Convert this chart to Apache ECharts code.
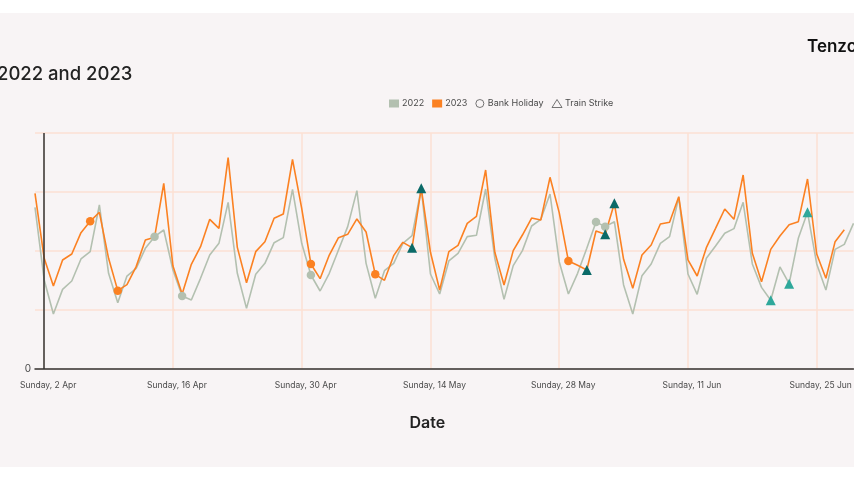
<!DOCTYPE html>
<html>
<head>
    <meta charset="utf-8">
    <title>2022 and 2023</title>
    <script src="https://cdnjs.cloudflare.com/ajax/libs/echarts/6.0.0/echarts.min.js"></script>
    <style>
        html, body { margin: 0; padding: 0; background: #ffffff; overflow: hidden; }
    </style>
</head>
<body>
<div id="mychart" style="width:854px; height:480px;"></div>
<script>
    // one value per day, starting Saturday 1 Apr
    var sales2022 = [
        2740, 1509, 932, 1350, 1492, 1865, 1989, 2780, 1622, 1124,
        1576, 1706, 2045, 2243, 2356, 1678, 1237, 1170, 1537, 1932,
        2130, 2825, 1622, 1028, 1605, 1791, 2141, 2226, 3045, 2130,
        1593, 1322, 1622, 2017, 2413, 3023, 1791, 1198, 1667, 1791,
        2130, 2260, 3062, 1610, 1271, 1831, 1961, 2243, 2266, 3051,
        1876, 1181, 1752, 2006, 2424, 2537, 2966, 1819, 1271, 1622,
        2045, 2492, 2413, 2497, 1424, 932, 1582, 1780, 2130, 2243,
        2910, 1610, 1266, 1876, 2085, 2300, 2379, 2825, 1780, 1384,
        1164, 1729, 1446, 2215, 2656, 1780, 1339, 2028, 2113, 2469
    ];
    var sales2023 = [
        2978, 1876, 1407, 1848, 1949, 2311, 2503, 2656, 1876, 1328,
        1429, 1735, 2187, 2232, 3147, 1746, 1271, 1774, 2074, 2537,
        2384, 3582, 2062, 1463, 1989, 2158, 2554, 2627, 3554, 2723,
        1780, 1531, 1932, 2226, 2283, 2543, 2322, 1605, 1503, 1921,
        2147, 2057, 3062, 1978, 1339, 1989, 2096, 2469, 2588, 3373,
        1978, 1424, 2006, 2271, 2559, 2526, 3249, 2650, 1831, 1757,
        1678, 2339, 2283, 2808, 1859, 1367, 1932, 2102, 2458, 2486,
        2921, 1848, 1576, 2057, 2384, 2712, 2537, 3288, 1961, 1480,
        2028, 2254, 2446, 2497, 3220, 1949, 1537, 2158, 2362, null
    ];
    // positions in the daily arrays above
    var holidays2022 = [13, 16, 30, 61, 62];
    var holidays2023 = [6, 9, 30, 37, 58];
    var strikes2022 = [80, 82, 84];
    var strikes2023 = [41, 42, 60, 62, 63];

    var weekdays = ['Sunday', 'Monday', 'Tuesday', 'Wednesday', 'Thursday', 'Friday', 'Saturday'];
    var months = ['Apr', 'May', 'Jun'];
    var categories = [];
    for (var i = 0; i < sales2022.length; i++) {
        var d = new Date(Date.UTC(2023, 3, 1 + i));
        categories.push(weekdays[d.getUTCDay()] + ', ' + d.getUTCDate() + ' ' + months[d.getUTCMonth() - 3]);
    }
    var firstSunday = categories[1];

    function marks(days, values, color) {
        return days.map(function (day) {
            return { value: [categories[day], values[day]], itemStyle: { color: color, opacity: 1 } };
        });
    }

    function isTick(index) {
        return index % 14 === 1;
    }

    var GRID_COLOR = '#fde0d3';
    var TEXT_COLOR = '#4a4a4a';
    var FONT = 'Inter';

    var myechart = echarts.init(document.getElementById('mychart'));
    myechart.setOption({
        animation: false,
        textStyle: { fontFamily: FONT },
        title: {
            text: '2022 and 2023',
            left: -8,
            top: 60,
            textStyle: { fontFamily: FONT, fontSize: 18.5, fontWeight: 500, color: '#222222' }
        },
        graphic: [
            { type: 'rect', z: -10, shape: { x: 0, y: 13, width: 854, height: 454 }, style: { fill: '#f8f4f5' } },
            {
                type: 'text', left: 807, top: 38,
                style: { text: 'Tenzo', fontFamily: FONT, fontSize: 17, fontWeight: 600, fill: '#111111' }
            }
        ],
        legend: {
            left: 384,
            top: 94,
            itemWidth: 10,
            itemHeight: 8,
            itemGap: 8,
            textStyle: { fontFamily: FONT, fontSize: 9, color: TEXT_COLOR, padding: [0, 0, 0, -2] },
            data: [
                { name: '2022', icon: 'rect' },
                { name: '2023', icon: 'rect' },
                { name: 'Bank Holiday', icon: 'circle', itemStyle: { color: 'transparent', borderColor: '#555555', borderWidth: 1 } },
                { name: 'Train Strike', icon: 'triangle', itemStyle: { color: 'transparent', borderColor: '#555555', borderWidth: 1 } }
            ]
        },
        grid: { left: 35, right: 0.5, top: 133, bottom: 111, outerBoundsMode: 'none' },
        xAxis: {
            type: 'category',
            boundaryGap: false,
            data: categories,
            name: 'Date',
            nameLocation: 'middle',
            nameGap: 46,
            nameTextStyle: { fontFamily: FONT, fontSize: 16, fontWeight: 600, color: '#222222', padding: [0, 34, 0, 0] },
            axisLine: { lineStyle: { color: '#333333', width: 1.5 } },
            axisTick: { show: false },
            axisLabel: {
                interval: function (index) { return isTick(index); },
                fontSize: 8.5,
                color: TEXT_COLOR,
                margin: 12,
                padding: [0, 0, 0, 8]
            },
            splitLine: {
                show: true,
                interval: function (index) { return isTick(index); },
                lineStyle: { color: GRID_COLOR, width: 1.5 }
            }
        },
        yAxis: {
            type: 'value',
            min: 0,
            max: 4000,
            interval: 1000,
            axisLine: { show: false },
            axisTick: { show: false },
            axisLabel: {
                fontSize: 10,
                color: TEXT_COLOR,
                margin: 4,
                formatter: function (v) { return v === 0 ? '0' : ''; }
            },
            splitLine: { lineStyle: { color: GRID_COLOR, width: 1.5 } }
        },
        series: [
            {
                name: '2022',
                type: 'line',
                data: sales2022,
                symbol: 'none',
                itemStyle: { color: '#b3c0b0' },
                lineStyle: { color: '#b3c0b0', width: 1.6 },
                markLine: {
                    silent: true,
                    symbol: 'none',
                    label: { show: false },
                    lineStyle: { color: '#333333', width: 1.5, type: 'solid' },
                    data: [{ xAxis: firstSunday }]
                }
            },
            {
                name: '2023',
                type: 'line',
                data: sales2023,
                symbol: 'none',
                itemStyle: { color: '#fb8122' },
                lineStyle: { color: '#fb8122', width: 1.6 }
            },
            {
                name: 'Bank Holiday',
                type: 'scatter',
                symbol: 'circle',
                symbolSize: 8.5,
                z: 5,
                data: marks(holidays2022, sales2022, '#b3c0b0').concat(marks(holidays2023, sales2023, '#fb8122'))
            },
            {
                name: 'Train Strike',
                type: 'scatter',
                symbol: 'triangle',
                symbolSize: 10,
                z: 5,
                data: marks(strikes2022, sales2022, '#2fa89b').concat(marks(strikes2023, sales2023, '#0b6a68'))
            }
        ]
    });
</script>
</body>
</html>
